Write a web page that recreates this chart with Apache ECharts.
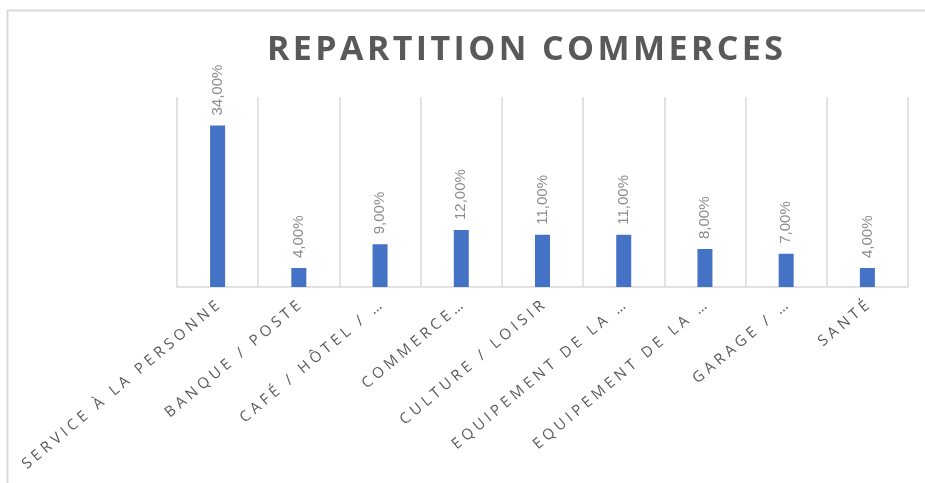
<!DOCTYPE html>
<html>
<head>
<meta charset="utf-8">
<script src="https://cdn.jsdelivr.net/npm/echarts@6/dist/echarts.min.js"></script>
<style>
  html, body { margin: 0; padding: 0; background: #fff; }
  #main { width: 925px; height: 483px; }
</style>
</head>
<body>
<div id="main"></div>
<script>
// categories as shown (Excel truncated some of them)
var categories = ['SERVICE À LA PERSONNE', 'BANQUE / POSTE', 'CAFÉ / HÔTEL / …', 'COMMERCE…',
    'CULTURE / LOISIR', 'EQUIPEMENT DE LA …', 'EQUIPEMENT DE LA …', 'GARAGE / …', 'SANTÉ'];
var shares = [34, 4, 9, 12, 11, 11, 8, 7, 4]; // percent
var yMin = 0;
var yMax = 40;

// fake letter spacing with thin spaces
function spaced(s, sp) {
    return s.split('').join(sp);
}

var chart = echarts.init(document.getElementById('main'));
var option = {
    backgroundColor: '#ffffff',
    animation: false,
    title: {
        text: spaced('REPARTITION COMMERCES', '\u200A'),
        left: 262,
        top: 28,
        textStyle: {
            fontFamily: 'Open Sans',
            fontWeight: 'bold',
            fontSize: 34,
            color: '#595959'
        }
    },
    graphic: [
        { type: 'line', shape: { x1: 7, y1: 10.5, x2: 925, y2: 10.5 }, style: { stroke: '#d9d9d9', lineWidth: 2 } },
        { type: 'line', shape: { x1: 7.5, y1: 10, x2: 7.5, y2: 483 }, style: { stroke: '#d9d9d9', lineWidth: 2 } }
    ],
    grid: {
        left: 177,
        right: 17,
        top: 97,
        bottom: 196
    },
    xAxis: {
        type: 'category',
        data: categories,
        axisLine: { lineStyle: { color: '#d9d9d9', width: 1.5 } },
        axisTick: { show: false },
        splitLine: { show: true, lineStyle: { color: '#d9d9d9', width: 1.5 } },
        axisLabel: {
            interval: 0,
            rotate: 40,
            margin: 17,
            fontFamily: 'Open Sans',
            fontSize: 15,
            color: '#595959',
            formatter: function (v) { return spaced(v, '\u2009\u200A'); }
        }
    },
    yAxis: {
        type: 'value',
        min: yMin,
        max: yMax,
        show: false,
        splitLine: { show: false }
    },
    series: [{
        type: 'bar',
        data: shares,
        barWidth: 15,
        itemStyle: { color: '#4472c4' },
        label: {
            show: true,
            position: 'top',
            rotate: 90,
            align: 'left',
            verticalAlign: 'middle',
            distance: 10,
            fontFamily: 'Liberation Sans',
            fontSize: 15,
            color: '#8c8c8c',
            formatter: function (p) {
                return p.value.toFixed(2).replace('.', ',') + '%';
            }
        }
    }]
};
chart.setOption(option);
</script>
</body>
</html>
